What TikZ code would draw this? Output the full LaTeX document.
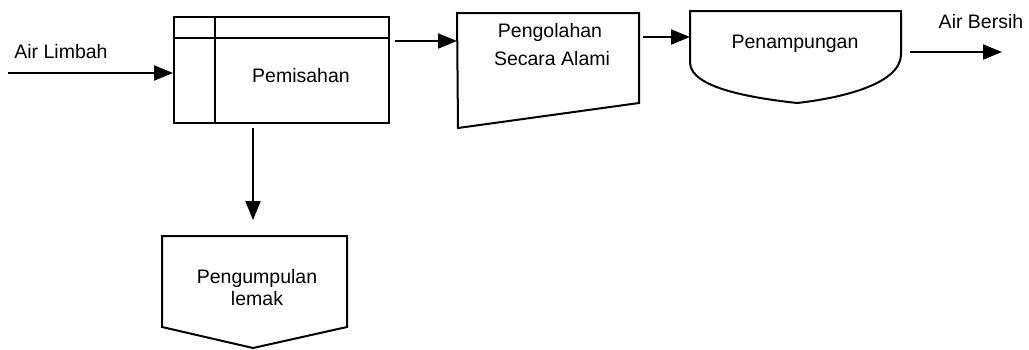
\documentclass[tikz,border=0pt]{standalone}
\usepackage{fontspec}
\setmainfont{Liberation Sans}
\usetikzlibrary{arrows.meta}
\begin{document}
\begin{tikzpicture}[x=1pt,y=-1pt,
  shapeline/.style={draw=black,line width=2pt,line join=miter},
  flow/.style={line width=2pt,-{Triangle[length=19pt,width=15pt]}},
  lbl/.style={font=\fontsize{19.5}{22}\selectfont,anchor=base,inner sep=0pt}]
\useasboundingbox (0,0) rectangle (1029,349);
% Pemisahan
\node[shapeline,rectangle,minimum width=215pt,minimum height=106pt,inner sep=0pt] (pem) at (281.5,70) {};
\draw[line width=1.8pt] (215,17) -- (215,123);
\draw[line width=1.8pt] (174,38) -- (389,38);
\node[lbl] (pemt) at (301,82) {Pemisahan};
% Pengolahan (manual input)
\coordinate (tlA) at (457,13);
\coordinate (tlB) at (639,13);
\coordinate (tlC) at (639,103);
\coordinate (tlD) at (458,128);
\draw[shapeline] (tlA) -- (tlB) -- (tlC) -- (tlD) -- cycle;
\node[lbl] (peng1) at (550,37) {Pengolahan};
\node[lbl] (peng2) at (552,65) {Secara Alami};
% Penampungan
\coordinate (paA) at (690,11);
\coordinate (paB) at (901,11);
\coordinate (paL) at (690,37);
\draw[shapeline] (paA) -- (paB) -- (901,55) .. controls (900,84) and (842,98) .. (797,103)
   .. controls (752,98) and (691,88) .. (690,63) -- cycle;
\node[lbl] (pat) at (795,48) {Penampungan};
% Pengumpulan lemak
\coordinate (puA) at (162,236);
\draw[shapeline] (puA) -- (347,236) -- (347,327) -- (253,348) -- (162,327) -- cycle;
\node[lbl] (pu1) at (257,283) {Pengumpulan};
\node[lbl] (pu2) at (257,305) {lemak};
% labels
\node[lbl] (al) at (61,58) {Air Limbah};
\node[lbl] (ab) at (981,28) {Air Bersih};
% connectors
\coordinate (inS) at (8,73);
\coordinate (outS) at (910,52);
\coordinate (outE) at (1002,52);
\coordinate (pemR) at (395,41);
\coordinate (pemB) at (253,128);
\coordinate (puT) at (253,220);
\coordinate (tlR) at (643,37);
\draw[flow] (inS) -- (pem.west |- inS);
\draw[flow] (pemR) -- (tlA |- pemR);
\draw[flow] (tlR) -- (paL);
\draw[flow] (outS) -- (outE);
\draw[flow] (pemB) -- (puT);
\end{tikzpicture}
\end{document}
